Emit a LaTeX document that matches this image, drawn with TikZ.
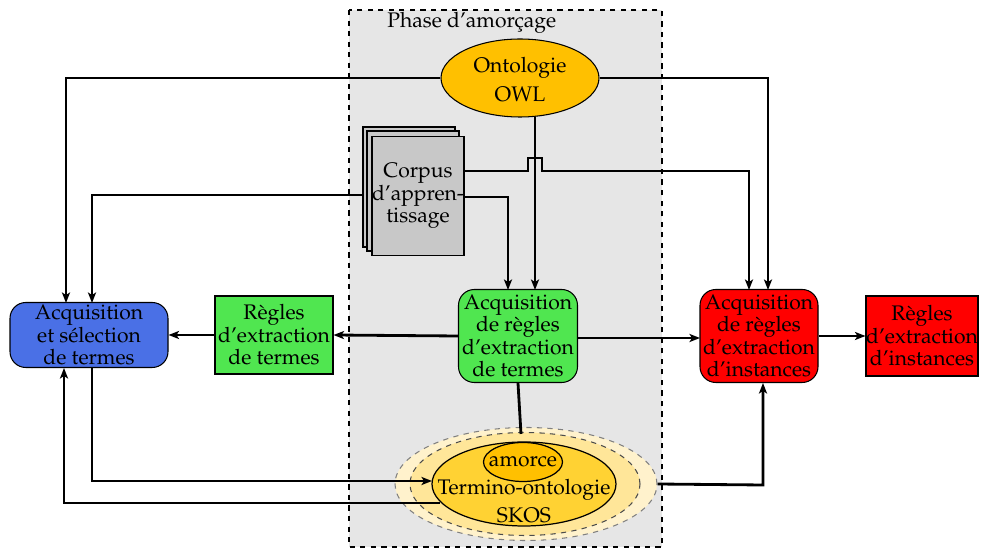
\documentclass[tikz,border=0pt]{standalone}
\usepackage[T1]{fontenc}
\usepackage{mathpazo}
\usetikzlibrary{arrows.meta,shapes.geometric,calc}
\definecolor{phasegray}{HTML}{E6E6E6}
\definecolor{owlyellow}{HTML}{FFC000}
\definecolor{corpusgray}{HTML}{C8C8C8}
\definecolor{greenbox}{HTML}{50E650}
\definecolor{bluebox}{HTML}{4A70E6}
\definecolor{redbox}{HTML}{FF0000}
\definecolor{haloA}{HTML}{FFF2CC}
\definecolor{haloB}{HTML}{FFE699}
\definecolor{skosfill}{HTML}{FFD233}
\tikzset{
  txt/.style={font=\fontsize{12}{12.8}\selectfont, align=center, inner sep=0pt},
  rbox/.style={txt, draw, rounded corners=9pt, line width=0.6pt},
  sbox/.style={txt, draw, line width=0.6pt},
  conn/.style={line width=1.6pt, -{Stealth[length=6pt,width=4.6pt,inset=1.5pt]}},
  plain/.style={line width=1.6pt},
}
\begin{document}
\begin{tikzpicture}[x=0.02cm,y=-0.02cm]
\useasboundingbox (0,0) rectangle (985,550);
% phase box
\draw[dashed, fill=phasegray, line width=0.6pt] (349,10) rectangle (662,547);
\node[txt, anchor=west] (phase) at (387,23) {Phase d'amor\c{c}age};

% corpus stack
\draw[fill=corpusgray, line width=0.6pt] (363,127) rectangle (455,247);
\draw[fill=corpusgray, line width=0.6pt] (367,131) rectangle (459,251);
\node[sbox, fill=corpusgray, minimum width=92*0.02cm, minimum height=119*0.02cm] (corpus) at (418,196) {Corpus\\d'appren-\\tissage};

% ontologie OWL
\node[draw, ellipse, fill=owlyellow, minimum width=158*0.02cm, minimum height=78*0.02cm, line width=0.6pt] (owl) at (520,78) {};
\node[txt, font=\fontsize{12}{16.5}\selectfont] (owltxt) at (520,80) {Ontologie\\OWL};

% boxes
\node[rbox, fill=greenbox, minimum width=119*0.02cm, minimum height=93*0.02cm] (acqT) at (518,336) {Acquisition\\de r\`egles\\d'extraction\\de termes};
\node[sbox, fill=greenbox, minimum width=118*0.02cm, minimum height=78*0.02cm] (regT) at (274,335) {R\`egles\\d'extraction\\de termes};
\node[rbox, fill=bluebox, minimum width=158*0.02cm, minimum height=65*0.02cm] (blue) at (89,335) {Acquisition\\et s\'election\\de termes};
\node[rbox, fill=redbox, minimum width=118*0.02cm, minimum height=93*0.02cm] (acqI) at (759,336) {Acquisition\\de r\`egles\\d'extraction\\d'instances};
\node[sbox, fill=redbox, minimum width=112*0.02cm, minimum height=80*0.02cm] (regI) at (922,336) {R\`egles\\d'extraction\\d'instances};

% termino-ontologie halos
\node[ellipse, fill=haloA, draw=gray, dashed, line width=0.6pt, minimum width=262*0.02cm, minimum height=113*0.02cm] (haloout) at (526,484) {};
\node[ellipse, fill=haloB, draw=black!70, dashed, line width=0.6pt, minimum width=230*0.02cm, minimum height=103*0.02cm] (halomid) at (525,484) {};
\draw[plain] (acqT.south) -- ($(halomid.north)+(-4,2)$) coordinate (tdrop);
\node[ellipse, fill=skosfill, draw, line width=0.7pt, minimum width=184*0.02cm, minimum height=84*0.02cm] (skos) at (524,484) {};
\node[txt, font=\fontsize{12}{15.5}\selectfont] (skostxt) at (524,501) {Termino-ontologie\\SKOS};
\node[ellipse, fill=owlyellow, draw, line width=0.7pt, inner sep=0pt, minimum width=79*0.02cm, minimum height=39*0.02cm] (amorce) at (523,462) {};
\node[txt] (amorcetxt) at (523,462) {amorce};

% connectors
\draw[conn] (owl.west) -- (66,78) -- (66,303);
\draw[conn] (owl.east) -- (768,78) -- (768,290);
\draw[conn] (535,117) -- (535,290);
\coordinate (c1) at (464,171);
\draw[conn] (c1) -- (528,171) -- (528,158) -- (542,158) -- (542,171) -- (749,171) -- (749,290);
\draw[conn] (464,197) -- (508,197) -- (508,290);
\draw[conn] (363,195) -- (92,195) -- (92,303);
\draw[conn] (acqT.west) -- (regT.east);
\draw[conn] (regT.west) -- (blue.east);
\draw[conn] (578,338) -- (700,338);
\draw[conn] (acqI.east) -- (regI.west);
\draw[conn] (92,368) -- (92,481) -- (432,481);
\draw[conn] (440,503) -- (64,503) -- (64,368);
\draw[conn] (haloout.east) -- (763,485) -- (763,383);
\end{tikzpicture}
\end{document}
